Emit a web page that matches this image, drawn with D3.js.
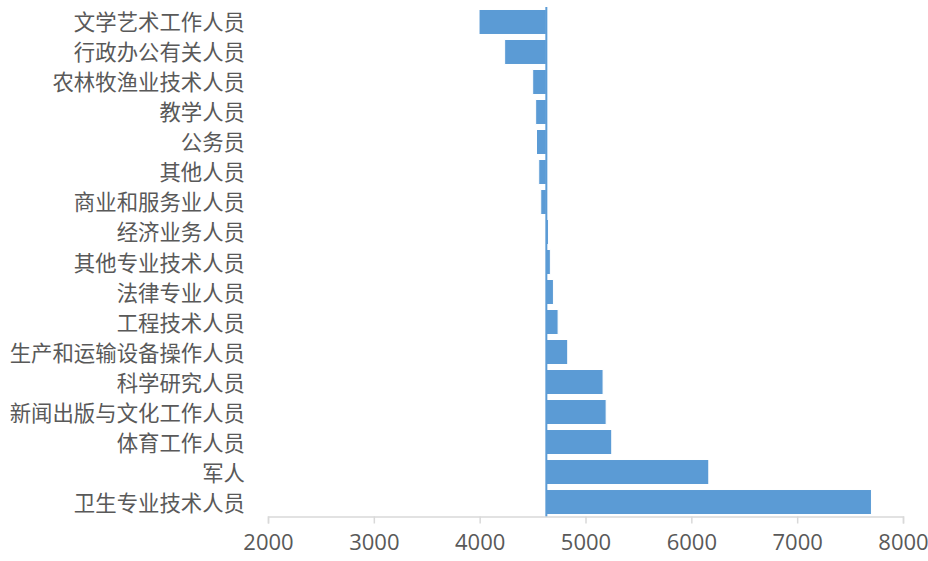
<!DOCTYPE html>
<html>
<head>
<meta charset="utf-8">
<script src="https://cdn.jsdelivr.net/npm/d3@7"></script>
<style>
  body { margin: 0; background: #fff; }
</style>
</head>
<body>
<script>
let width = 928;
let height = 561;

let categories = ["文学艺术工作人员", "行政办公有关人员", "农林牧渔业技术人员", "教学人员",
                  "公务员", "其他人员", "商业和服务业人员", "经济业务人员",
                  "其他专业技术人员", "法律专业人员", "工程技术人员", "生产和运输设备操作人员",
                  "科学研究人员", "新闻出版与文化工作人员", "体育工作人员", "军人", "卫生专业技术人员"];
let values = [3994, 4236, 4501, 4529, 4537, 4558, 4577, 4650,
              4668, 4697, 4741, 4832, 5166, 5195, 5248, 6165, 7702];
let baseValue = 4630;
let xTicks = [2000, 3000, 4000, 5000, 6000, 7000, 8000];

//scales

let xScale = d3.scaleLinear()
    .domain([2000, 8000])
    .range([268, 903]);

let yScale = d3.scaleBand()
    .domain(categories)
    .range([7, 517])
    .paddingInner(0.167)
    .paddingOuter(0.083);

//svg canvas

let svg = d3.select("body")
    .append("svg")
    .attr("width", width)
    .attr("height", height);

//bars

svg.selectAll("rect.bar")
    .data(values)
    .enter()
    .append("rect")
    .attr("class", "bar")
    .attr("x", function(d) {
        return xScale(Math.min(d, baseValue));
    })
    .attr("y", function(d, i) {
        return yScale(categories[i]);
    })
    .attr("width", function(d) {
        return Math.abs(xScale(d) - xScale(baseValue));
    })
    .attr("height", yScale.bandwidth())
    .attr("fill", "#5b9bd5")
    .attr("stroke", "#ffffff")
    .attr("stroke-width", 1);

//vertical axis line at base value

svg.append("line")
    .attr("x1", xScale(baseValue))
    .attr("x2", xScale(baseValue))
    .attr("y1", 7)
    .attr("y2", 517)
    .attr("stroke", "#5b9bd5")
    .attr("stroke-width", 2);

//category labels

svg.selectAll("text.cat")
    .data(categories)
    .enter()
    .append("text")
    .attr("class", "cat")
    .text(function(d) { return d; })
    .attr("x", 245)
    .attr("y", function(d) {
        return yScale(d) + yScale.bandwidth() / 2 + 8.5;
    })
    .attr("font-family", "Noto Sans CJK SC")
    .attr("font-size", "21.4px")
    .attr("fill", "#595959")
    .attr("text-anchor", "end");

//x axis

let xAxis = svg.append("g")
    .attr("transform", "translate(0,516.5)")
    .call(d3.axisBottom(xScale).tickValues(xTicks).tickSize(7).tickPadding(11).tickFormat(d3.format("d")));

xAxis.select(".domain").attr("stroke", "#d9d9d9").attr("stroke-width", 1.5);
xAxis.selectAll(".tick line").attr("stroke", "#d9d9d9").attr("stroke-width", 1.5);
xAxis.selectAll(".tick text")
    .attr("font-family", "Open Sans")
    .attr("font-size", "22px")
    .attr("fill", "#595959");
</script>
</body>
</html>
